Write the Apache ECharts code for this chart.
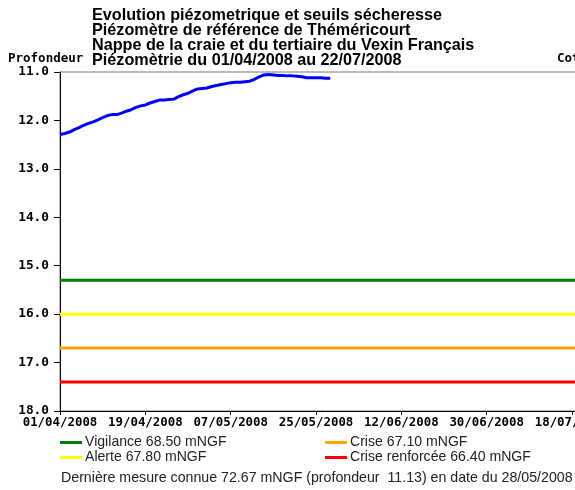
<!DOCTYPE html>
<html>
<head>
<meta charset="utf-8">
<script src="https://cdn.jsdelivr.net/npm/echarts@6/dist/echarts.min.js"></script>
<style>html,body{margin:0;padding:0;background:#fff;overflow:hidden;width:575px;height:490px;}#c{width:620px;height:490px;}</style>
</head>
<body>
<div id="c"></div>
<script>
// ---- data ----
var titleLines = [
  "Evolution piézometrique et seuils sécheresse",
  "Piézomètre de référence de Théméricourt",
  "Nappe de la craie et du tertiaire du Vexin Français",
  "Piézomètrie du 01/04/2008 au 22/07/2008"
];
var startDate = [2008, 3, 1];   // 01/04/2008
var periodDays = 112;           // to 22/07/2008
var tickStepDays = 18;
// daily depth measurements (m) from 01/04/2008 to 28/05/2008
var depths = [
  12.29, 12.27, 12.24, 12.19, 12.15, 12.10, 12.06, 12.03, 11.99, 11.94,
  11.90, 11.88, 11.88, 11.85, 11.81, 11.78, 11.73, 11.70, 11.68, 11.64,
  11.61, 11.58, 11.58, 11.57, 11.56, 11.51, 11.47, 11.44, 11.39, 11.35,
  11.34, 11.33, 11.30, 11.28, 11.26, 11.24, 11.22, 11.21, 11.21, 11.20,
  11.19, 11.15, 11.10, 11.06, 11.05, 11.06, 11.07, 11.07, 11.08, 11.08,
  11.09, 11.10, 11.12, 11.12, 11.12, 11.12, 11.13, 11.13
];
var thresholdNames = ["Vigilance 68.50 mNGF", "Alerte 67.80 mNGF", "Crise 67.10 mNGF", "Crise renforcée 66.40 mNGF"];
var thresholdDepths = [15.30, 16.00, 16.70, 17.40];
var thresholdColors = ["#008000", "#ffff00", "#ffa500", "#ff0000"];
var footerText = "Dernière mesure connue 72.67 mNGF (profondeur  11.13) en date du 28/05/2008";

function pad(n){ return (n < 10 ? "0" : "") + n; }
function dayLabel(d){
  var dt = new Date(startDate[0], startDate[1], startDate[2] + d);
  return pad(dt.getDate()) + "/" + pad(dt.getMonth() + 1) + "/" + dt.getFullYear();
}

var series = [{
  name: "Profondeur",
  type: "line",
  data: depths.map(function(v, i){ return [i, v]; }),
  showSymbol: false,
  lineStyle: { color: "#0000ff", width: 3 },
  itemStyle: { color: "#0000ff" },
  z: 5,
  silent: true
}];
thresholdNames.forEach(function(n, i){
  series.push({
    name: n,
    type: "line",
    data: [[0, thresholdDepths[i]], [periodDays, thresholdDepths[i]]],
    showSymbol: false,
    lineStyle: { color: thresholdColors[i], width: 3 },
    itemStyle: { color: thresholdColors[i] },
    silent: true
  });
});

var monoFont = "DejaVu Sans Mono";
var legendCommon = {
  orient: "vertical",
  icon: "rect",
  itemWidth: 22,
  itemHeight: 3,
  itemGap: 0,
  padding: 0,
  textStyle: { fontFamily: "Liberation Sans", fontSize: 14.1, lineHeight: 15, color: "#222", padding: [0,0,0,-2] },
  selectedMode: false
};

var chart = echarts.init(document.getElementById("c"), null, { renderer: "canvas" });
chart.setOption({
  animation: false,
  backgroundColor: "#fff",
  title: {
    text: titleLines.join("\n"),
    left: 92, top: 8, padding: 0,
    textStyle: { fontFamily: "Liberation Sans", fontWeight: "bold", fontSize: 16.2, lineHeight: 15, color: "#000" }
  },
  legend: [
    Object.assign({ left: 60, top: 435, data: thresholdNames.slice(0, 2) }, legendCommon),
    Object.assign({ left: 325, top: 435, data: thresholdNames.slice(2, 4) }, legendCommon)
  ],
  grid: { left: 60, right: 29, top: 72, bottom: 79, show: true, borderColor: "#777", borderWidth: 1, backgroundColor: "transparent" },
  xAxis: {
    type: "value", min: 0, max: periodDays, interval: tickStepDays,
    axisLine: { show: true, onZero: false, lineStyle: { color: "#000", width: 1 } },
    axisTick: { show: true, length: 4, lineStyle: { color: "#000" } },
    splitLine: { show: false },
    axisLabel: {
      margin: 6, color: "#000", fontFamily: monoFont, fontWeight: "bold", fontSize: 12.4,
      showMaxLabel: false,
      formatter: function(v){ return v % tickStepDays === 0 ? dayLabel(v) : ""; }
    }
  },
  yAxis: {
    type: "value", inverse: true, min: 11, max: 18, interval: 1,
    axisLine: { show: true, lineStyle: { color: "#000", width: 1 } },
    axisTick: { show: true, length: 6, lineStyle: { color: "#000" } },
    splitLine: { show: false },
    axisLabel: {
      margin: 11, color: "#000", fontFamily: monoFont, fontWeight: "bold", fontSize: 12.8,
      formatter: function(v){ return v.toFixed(1); }
    }
  },
  graphic: [
    { type: "text", left: 8, top: 52, style: { text: "Profondeur", fontFamily: monoFont, fontWeight: "bold", fontSize: 12.5, fill: "#000" } },
    { type: "text", left: 557, top: 52, style: { text: "Cote", fontFamily: monoFont, fontWeight: "bold", fontSize: 12.5, fill: "#000" } },
    { type: "text", left: 61, top: 471, style: { text: footerText, fontFamily: "Liberation Sans", fontSize: 14.2, fill: "#222" } }
  ],
  series: series
});
</script>
</body>
</html>
